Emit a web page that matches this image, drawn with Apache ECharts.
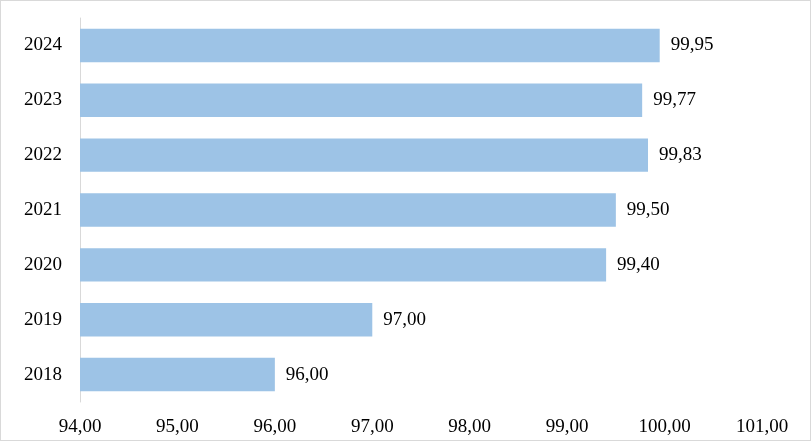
<!DOCTYPE html>
<html><head><meta charset="utf-8">
<script src="https://cdn.jsdelivr.net/npm/echarts@6/dist/echarts.min.js"></script>
<style>html,body{margin:0;padding:0;background:#fff}#c{width:811px;height:441px;box-sizing:border-box;border:1px solid #d9d9d9}</style>
</head><body><div id="c"></div>
<script>
const categories = ['2018','2019','2020','2021','2022','2023','2024'];
const values = [96.00, 97.00, 99.40, 99.50, 99.83, 99.77, 99.95];
const axisMin = 94, axisMax = 101, axisStep = 1;
const fmt = v => v.toFixed(2).replace('.', ',');
const chart = echarts.init(document.getElementById('c'), null, {renderer:'canvas'});
const font = '"Liberation Serif","Times New Roman",serif';
chart.setOption({
  animation:false,
  grid:{left:79,right:48,top:17,bottom:38},
  xAxis:{type:'value',min:axisMin,max:axisMax,interval:axisStep,
    axisLine:{show:false},axisTick:{show:false},splitLine:{show:false},
    axisLabel:{formatter:fmt,fontFamily:font,fontSize:19,color:'#000',margin:16}},
  yAxis:{type:'category',data:categories,
    axisLine:{show:true,lineStyle:{color:'#d9d9d9',width:1}},axisTick:{show:false},
    axisLabel:{fontFamily:font,fontSize:19,color:'#000',margin:18,padding:[3,0,0,0]}},
  series:[{type:'bar',data:values,barCategoryGap:'39%',
    itemStyle:{color:'#9dc3e6'},
    label:{show:true,position:'right',distance:11,padding:[3,0,0,0],formatter:p=>fmt(p.value),fontFamily:font,fontSize:19,color:'#000'}}]
});
</script></body></html>
